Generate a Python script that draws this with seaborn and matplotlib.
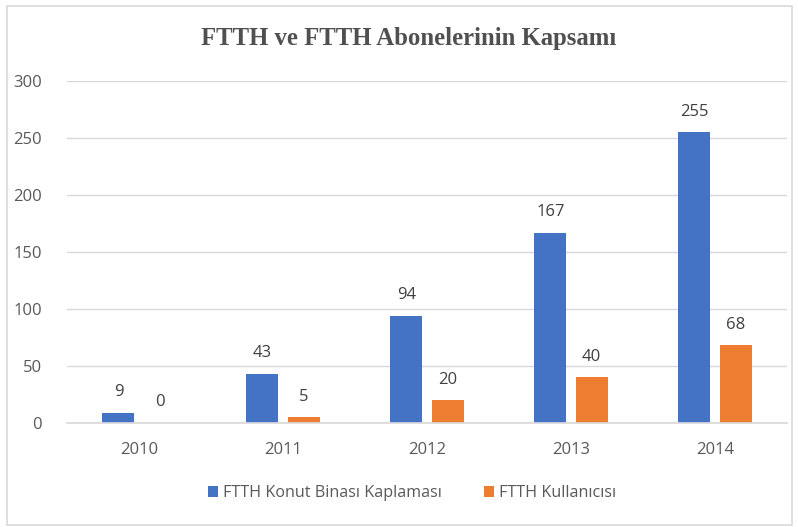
import matplotlib
matplotlib.use("Agg")
import matplotlib.pyplot as plt
import seaborn as sns
import pandas as pd
from matplotlib.patches import Rectangle

years = ["2010", "2011", "2012", "2013", "2014"]
series_names = ["FTTH Konut Binası Kaplaması", "FTTH Kullanıcısı"]
konut = [9, 43, 94, 167, 255]
kullanici = [0, 5, 20, 40, 68]
yticks = [0, 50, 100, 150, 200, 250, 300]
title = "FTTH ve FTTH Abonelerinin Kapsamı"

df = pd.DataFrame({
    "Yıl": years * 2,
    "Değer": konut + kullanici,
    "Seri": [series_names[0]] * len(years) + [series_names[1]] * len(years),
})

sns.set_theme(style="white")
plt.rcParams["font.family"] = ["Open Sans", "DejaVu Sans"]
gray = "#595959"

fig = plt.figure(figsize=(7.98, 5.27), dpi=100)
ax = fig.add_axes([67 / 798, 1 - 423 / 527, (787 - 67) / 798, (423 - 81) / 527])

sns.barplot(data=df, x="Yıl", y="Değer", hue="Seri",
            palette=["#4472C4", "#ED7D31"], width=0.57, gap=0.22,
            saturation=1, linewidth=0, ax=ax, legend=True)

for c in ax.containers:
    ax.bar_label(c, padding=9, fontsize=12, color="#404040")

ax.set_ylim(0, 300)
ax.set_yticks(yticks)
ax.set_yticklabels([str(v) for v in yticks])
ax.yaxis.grid(True, color="#D9D9D9", lw=1)
ax.set_axisbelow(True)
for s in ["top", "right", "left"]:
    ax.spines[s].set_visible(False)
ax.spines["bottom"].set_color("#D9D9D9")
ax.tick_params(axis="both", length=0, labelsize=12, colors=gray)
ax.tick_params(axis="y", pad=18)
ax.tick_params(axis="x", pad=14)
ax.set_xlabel("")
ax.set_ylabel("")

handles, labels = ax.get_legend_handles_labels()
ax.get_legend().remove()
fig.legend(handles, labels, loc="center", bbox_to_anchor=(412 / 798, 1 - 493 / 527),
           ncol=2, frameon=False, fontsize=11.6, handlelength=0.65, handleheight=0.65,
           handletextpad=0.3, columnspacing=2.6, labelcolor=gray)

fig.text(409 / 798, 1 - 39 / 527, title, ha="center", va="center",
         fontsize=17.8, fontweight="bold", color="#505050", family=["Liberation Serif", "DejaVu Serif"])

fig.patches.append(Rectangle((7 / 798, 1 - 525 / 527), (792 - 7) / 798, (525 - 6) / 527,
                             transform=fig.transFigure, fill=False,
                             edgecolor="#D9D9D9", lw=1.2))

fig.savefig("out.png", dpi=100)
